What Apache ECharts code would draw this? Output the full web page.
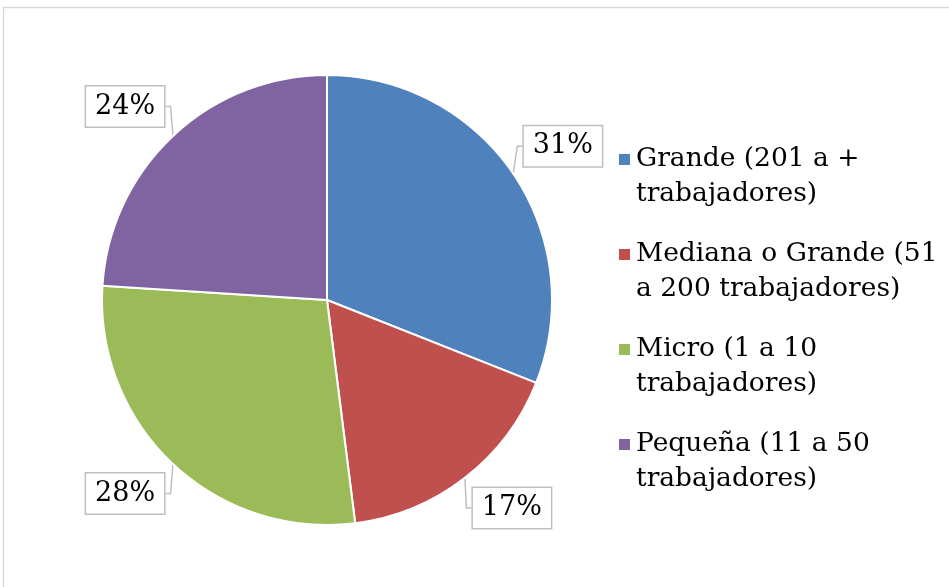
<!DOCTYPE html>
<html>
<head>
<meta charset="utf-8">
<script src="https://cdn.jsdelivr.net/npm/echarts@6/dist/echarts.min.js"></script>
<style>html,body{margin:0;padding:0;background:#fff}#c{width:949px;height:587px}</style>
</head>
<body>
<div id="c"></div>
<script>
const categories = ['Grande (201 a + trabajadores)', 'Mediana o Grande (51 a 200 trabajadores)', 'Micro (1 a 10 trabajadores)', 'Pequeña (11 a 50 trabajadores)'];
const legendText = ['Grande (201 a +\ntrabajadores)', 'Mediana o Grande (51\na 200 trabajadores)', 'Micro (1 a 10\ntrabajadores)', 'Pequeña (11 a 50\ntrabajadores)'];
const values = [31, 17, 28, 24];
const colors = ['#4f81bd', '#c0504d', '#9bbb59', '#8064a2'];

const FONT = '"DejaVu Serif", serif';
const CX = 327, CY = 300, R = 225, LABEL_R = 238;
const total = values.reduce((a, b) => a + b, 0);

function midAngle(i) {
  let before = 0;
  for (let k = 0; k < i; k++) before += values[k];
  return ((before + values[i] / 2) / total) * Math.PI * 2;
}

const chart = echarts.init(document.getElementById('c'), null, { renderer: 'canvas' });
chart.setOption({
  animation: false,
  backgroundColor: '#ffffff',
  color: colors,
  graphic: [{
    type: 'rect', silent: true,
    shape: { x: 3.5, y: 7.5, width: 1100, height: 1100 },
    style: { fill: 'none', stroke: '#d9d9d9', lineWidth: 1.5 }
  }],
  legend: {
    orient: 'vertical',
    left: 617, top: 107,
    padding: 0,
    itemWidth: 13, itemHeight: 13,
    itemGap: -10,
    textGap: 11,
    icon: 'rect',
    formatter: function (name) { return '\n' + legendText[categories.indexOf(name)]; },
    textStyle: { fontFamily: FONT, fontSize: 26.5, color: '#000', lineHeight: 35 },
    data: categories
  },
  series: [{
    type: 'pie',
    center: [CX, CY],
    radius: R,
    startAngle: 90,
    clockwise: true,
    itemStyle: { borderColor: '#fff', borderWidth: 2 },
    label: {
      show: true,
      position: 'outside',
      formatter: '{d}%',
      fontFamily: FONT, fontSize: 27, color: '#000',
      backgroundColor: '#fff',
      borderColor: '#bfbfbf', borderWidth: 1.5,
      padding: [4, 9, 4, 9],
      lineHeight: 32
    },
    labelLine: { show: true, length: 10, length2: 5, lineStyle: { color: '#bfbfbf', width: 1.5 } },
    labelLayout: function (p) {
      const a = midAngle(p.dataIndex);
      const s = Math.sin(a), c = Math.cos(a);
      return {
        x: CX + LABEL_R * s,
        y: CY - LABEL_R * c,
        align: s >= 0 ? 'left' : 'right',
        verticalAlign: c >= 0 ? 'bottom' : 'top'
      };
    },
    emphasis: { disabled: true },
    data: categories.map((n, i) => ({ name: n, value: values[i] }))
  }]
});
</script>
</body>
</html>
